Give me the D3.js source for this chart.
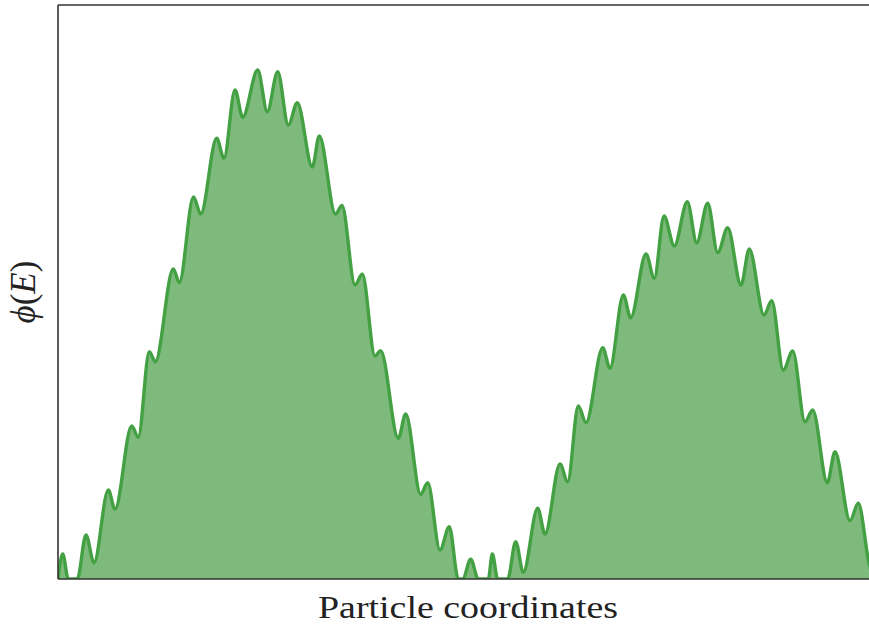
<!DOCTYPE html>
<html>
<head>
<meta charset="utf-8">
<script src="https://cdn.jsdelivr.net/npm/d3@7"></script>
<style>
    html, body { margin: 0; padding: 0; background: #fff; }
    svg { display: block; }
    .lbl { font-family: "Liberation Serif", "DejaVu Serif", serif; fill: #222; }
</style>
</head>
<body>
<div id="vis"></div>
<script>
// particle coordinate
var coords = [0.000, 0.047, 0.103, 0.193, 0.28, 0.36, 0.503, 0.57, 0.737, 0.803,
    0.913, 0.973, 1.153, 1.213, 1.355, 1.427, 1.587, 1.66, 1.77, 1.847,
    1.997, 2.093, 2.197, 2.303, 2.393, 2.543, 2.613, 2.775, 2.84, 2.97,
    3.043, 3.17, 3.227, 3.403, 3.477, 3.627, 3.697, 3.82, 3.913, 4.003,
    4.047, 4.127, 4.203, 4.303, 4.343, 4.397, 4.497, 4.577, 4.653, 4.797,
    4.87, 5.02, 5.097, 5.203, 5.28, 5.447, 5.52, 5.653, 5.727, 5.88,
    5.963, 6.06, 6.163, 6.293, 6.387, 6.497, 6.597, 6.697, 6.83, 6.913,
    7.06, 7.137, 7.253, 7.347, 7.47, 7.547, 7.693, 7.77, 7.92, 8.003,
    8.11, 8.16];

// phi(E) at each coordinate
var phi = [0, 0.25, 0, 0, 0.44, 0.163, 0.89, 0.697, 1.53, 1.417,
    2.273, 2.173, 3.10, 2.963, 3.82, 3.65, 4.407, 4.207, 4.89, 4.617,
    5.09, 4.673, 5.073, 4.54, 4.763, 4.12, 4.43, 3.65, 3.735, 2.94,
    3.05, 2.23, 2.283, 1.407, 1.65, 0.847, 0.963, 0.29, 0.523, 0,
    0, 0.197, 0, 0, 0.25, 0, 0, 0.373, 0.067, 0.707,
    0.45, 1.15, 0.973, 1.73, 1.563, 2.313, 2.107, 2.84, 2.613, 3.25,
    3.007, 3.63, 3.33, 3.773, 3.363, 3.757, 3.263, 3.513, 2.94, 3.30,
    2.64, 2.783, 2.09, 2.28, 1.573, 1.69, 0.963, 1.273, 0.583, 0.757,
    0.16, 0];

var xDomain = [0, 8.2];
var yDomain = [0, 5.74];

var width = 869, height = 624;
var margin = { top: 5, left: 58, bottom: 45 };
var plotRight = 878; // the original figure runs past the crop

var x = d3.scaleLinear().domain(xDomain).range([margin.left, plotRight]);
var y = d3.scaleLinear().domain(yDomain).range([height - margin.bottom, margin.top]);

var data = coords.map(function (c, i) {
    return { x: c, v: phi[i] };
});

var svg = d3.select('#vis')
    .append('svg')
    .attr('width', width)
    .attr('height', height);

svg.append('clipPath')
    .attr('id', 'plotClip')
    .append('rect')
    .attr('x', margin.left)
    .attr('y', margin.top)
    .attr('width', plotRight - margin.left)
    .attr('height', height - margin.bottom - margin.top);

var plot = svg.append('g').attr('clip-path', 'url(#plotClip)');

var area = d3.area()
    .x(d => x(d.x))
    .y0(y(0))
    .y1(d => y(d.v))
    .curve(d3.curveMonotoneX);

var line = d3.line()
    .x(d => x(d.x))
    .y(d => y(d.v))
    .curve(d3.curveMonotoneX);

plot.append('path')
    .datum(data)
    .attr('d', area)
    .attr('fill', '#7dba7b');

plot.append('path')
    .datum(data)
    .attr('d', line)
    .attr('fill', 'none')
    .attr('stroke', '#43a043')
    .attr('stroke-width', 3.4)
    .attr('stroke-linejoin', 'round');

// spines: left, top, bottom
var spineColor = '#333';
svg.append('line')
    .attr('x1', margin.left).attr('x2', margin.left)
    .attr('y1', y(yDomain[1])).attr('y2', y(0))
    .attr('stroke', spineColor).attr('stroke-width', 1.6);
svg.append('line')
    .attr('x1', margin.left).attr('x2', plotRight)
    .attr('y1', y(yDomain[1])).attr('y2', y(yDomain[1]))
    .attr('stroke', spineColor).attr('stroke-width', 1.6);
svg.append('line')
    .attr('x1', margin.left).attr('x2', plotRight)
    .attr('y1', y(0)).attr('y2', y(0))
    .attr('stroke', spineColor).attr('stroke-width', 1.6);

svg.append('text')
    .attr('class', 'lbl')
    .attr('x', 468)
    .attr('y', 618)
    .attr('text-anchor', 'middle')
    .attr('font-size', 31)
    .attr('textLength', 300)
    .attr('lengthAdjust', 'spacingAndGlyphs')
    .text('Particle coordinates');

var ylab = svg.append('text')
    .attr('class', 'lbl')
    .attr('transform', 'translate(35,' + ((y(0) + y(yDomain[1])) / 2) + ') rotate(-90)')
    .attr('text-anchor', 'middle')
    .attr('font-size', 35);
ylab.append('tspan').attr('font-style', 'italic').text('\u03d5');
ylab.append('tspan').text('(');
ylab.append('tspan').attr('font-style', 'italic').text('E');
ylab.append('tspan').text(')');
</script>
</body>
</html>
